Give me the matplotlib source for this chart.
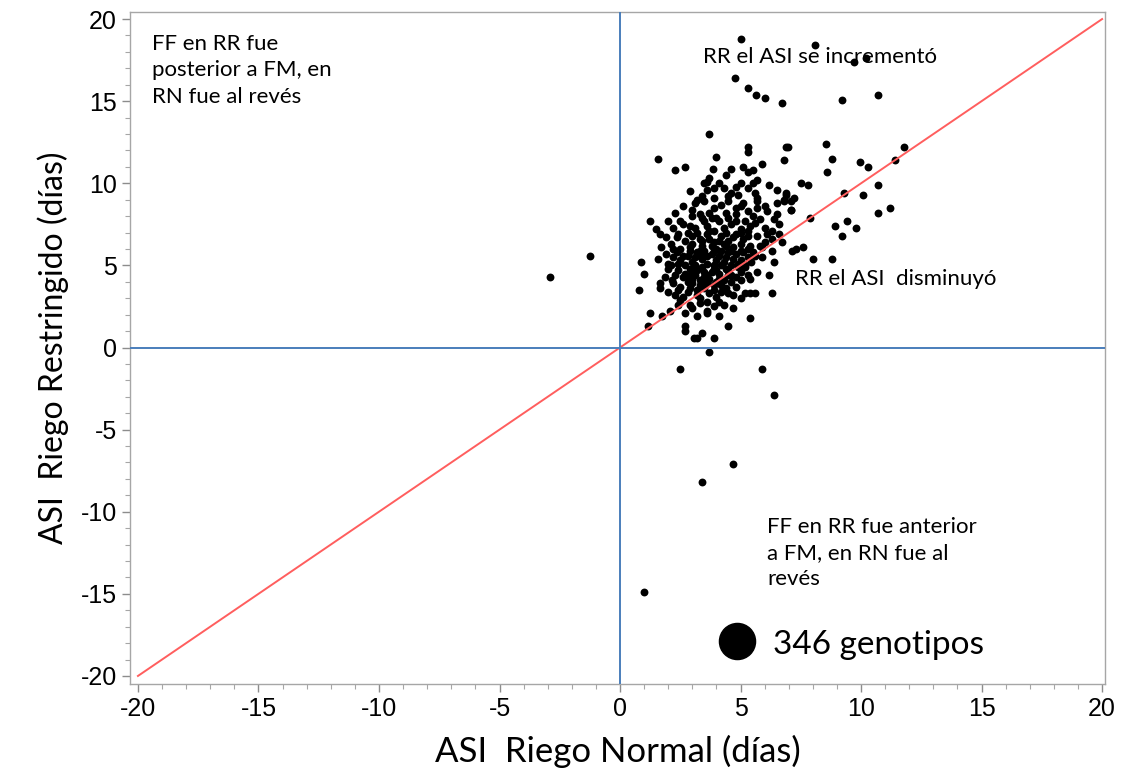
import matplotlib
matplotlib.use("Agg")
import matplotlib.pyplot as plt
from matplotlib.ticker import MultipleLocator

plt.rcParams['axes.unicode_minus'] = False

# ---- data (ASI days): x = Riego Normal, y = Riego Restringido ----
pts_top_x = [5.0, 8.1, 9.7, 10.2, 4.75, 5.3, 5.65, 6.0, 6.7, 9.2, 10.7]
pts_top_y = [18.8, 18.4, 17.4, 17.6, 16.4, 15.8, 15.4, 15.2, 14.9, 15.1, 15.4]

pts_right_x = [6.95, 6.8, 8.55, 8.8, 8.6, 9.96, 10.3, 11.8, 11.4, 7.5, 7.8, 10.7, 9.3, 10.1,
               6.9, 7.1, 7.9, 10.7, 11.2, 8.9, 9.4, 9.8, 9.2, 7.3, 7.6, 8.0, 8.8, 6.6, 7.15, 6.4]
pts_right_y = [12.2, 11.4, 12.4, 11.5, 10.7, 11.3, 11.0, 12.2, 11.4, 10.0, 9.9, 9.9, 9.4, 9.3,
               9.3, 8.4, 7.9, 8.2, 8.5, 7.4, 7.7, 7.3, 6.8, 6.0, 6.1, 5.4, 5.4, 6.9, 5.9, 5.2]

pts_upper_x = [3.7, 5.3, 5.3, 6.9, 1.57, 4.0, 5.9, 2.7, 5.1,
               2.3, 3.85, 4.6, 5.3, 5.5, 4.4, 3.7, 5.7, 3.5, 4.1, 5.0, 5.5, 3.6,
               3.6, 3.9, 5.6, 6.5, 6.9, 7.2, 6.8, 4.6, 4.9, 5.7, 3.4, 4.3, 2.9]
pts_upper_y = [13.0, 12.2, 11.9, 12.2, 11.5, 11.6, 11.2, 11.0, 11.0,
               10.8, 10.9, 10.9, 10.7, 10.8, 10.5, 10.3, 10.2, 10.0, 10.0, 10.0, 10.0, 10.1,
               9.6, 9.7, 9.4, 9.6, 9.4, 9.1, 9.0, 9.4, 9.3, 9.1, 9.2, 9.7, 9.5]

pts_mid_x = [3.5, 3.1, 4.5, 5.7, 6.5, 6.8, 7.1, 3.9, 4.8, 5.3, 5.7, 7.1, 2.27, 3.0, 3.3, 6.5,
             4.2, 5.0, 6.1, 2.6,
             1.24, 2.0, 2.5, 2.9, 3.4, 3.8, 4.1, 4.5, 4.8, 5.2, 5.6, 6.0, 6.3, 1.5, 2.6,
             3.1, 3.6, 4.3, 4.6, 5.0, 5.4, 5.8, 6.6, 2.2, 3.9,
             1.65, 1.9, 2.35, 2.7, 3.0, 3.3, 3.6, 3.9, 4.2, 4.5, 4.8, 5.1, 5.4, 5.7, 6.0, 6.7,
             1.7, 2.1, 2.9, 3.4, 4.0, 4.4, 4.7, 5.0, 5.3, 5.9, 6.3, 2.5, 3.7]
pts_mid_y = [8.9, 8.8, 8.9, 8.9, 8.8, 8.9, 8.9, 8.5, 8.5, 8.3, 8.5, 8.4, 8.2, 8.4, 8.1, 8.1,
             8.7, 8.6, 8.3, 8.6,
             7.7, 7.7, 7.7, 7.4, 7.9, 7.9, 7.7, 7.9, 7.7, 7.7, 7.6, 7.3, 7.1, 7.2, 7.5,
             7.3, 7.4, 7.3, 7.5, 7.2, 7.4, 7.8, 7.5, 7.3, 7.1,
             6.9, 6.7, 6.7, 6.5, 6.8, 6.6, 6.9, 6.4, 6.8, 6.5, 6.9, 6.6, 6.2, 6.8, 6.4, 6.4,
             6.1, 6.3, 6.1, 6.2, 6.0, 6.2, 6.1, 6.3, 6.8, 6.1, 6.6, 6.0, 6.6]

pts_low_x = [1.57, 0.87, 2.0, 2.35, 2.5, 2.8, 3.0, 3.2, 3.4, 3.6, 3.8, 4.0, 4.2, 4.4, 4.6, 4.8,
             5.0, 5.2, 5.45, 5.9, 6.3, 3.1, 3.5, 3.9, 4.3, 4.7, 5.1, 5.6, 2.2, 2.7, 3.3, 4.1,
             1.0, 1.86, 2.15, 2.4, 2.6, 2.9, 3.1, 3.3, 3.5, 3.7, 3.9, 4.1, 4.3, 4.5, 4.8, 5.2,
             6.2, 2.0, 2.8, 3.4, 4.0, 4.6, 5.0, 5.4, 2.3, 3.6, 3.0,
             0.79, 1.65, 1.65, 2.27, 2.5, 2.8, 3.0, 3.2, 3.5, 3.7, 3.9, 4.2, 4.4, 4.5, 5.2, 5.4,
             5.6, 6.3, 2.6, 3.3, 4.0, 4.8, 2.0,
             1.24, 1.74, 2.07, 2.7, 3.0, 3.6, 3.6, 4.7, 2.5, 3.3, 4.1, 2.9, 3.9,
             1.16, 2.7, 3.2, 4.1, 5.4, 4.5,
             2.7, 3.06, 3.2, 3.4, 3.9]
pts_low_y = [5.4, 5.2, 5.1, 5.8, 5.3, 5.6, 5.2, 5.8, 5.4, 5.1, 5.7, 5.3, 5.9, 5.5, 5.0, 5.7,
             5.3, 5.0, 5.2, 5.5, 5.9, 5.0, 5.9, 5.0, 5.2, 5.4, 5.8, 5.6, 5.5, 5.0, 5.6, 5.6,
             4.5, 4.3, 4.1, 4.7, 4.3, 4.8, 4.4, 4.1, 4.6, 4.2, 4.8, 4.5, 4.1, 4.7, 4.3, 4.9,
             4.4, 4.8, 4.0, 4.9, 4.0, 4.4, 4.6, 4.2, 4.4, 4.4, 4.6,
             3.5, 3.9, 3.6, 3.2, 3.7, 3.4, 3.9, 3.2, 3.6, 3.3, 3.8, 3.4, 3.6, 3.3, 3.3, 3.3,
             3.3, 3.3, 3.1, 3.0, 3.1, 3.7, 3.4,
             2.1, 1.9, 2.25, 2.1, 2.4, 2.1, 2.25, 2.4, 2.9, 2.7, 2.8, 2.6, 2.5,
             1.3, 1.3, 1.9, 1.9, 1.8, 1.3,
             1.0, 0.6, 0.55, 0.9, 0.6]

pts_core_x = [3.2, 3.5, 3.8, 4.1, 4.4, 4.7, 5.0, 3.0, 2.8, 3.3, 3.6, 3.9, 4.2, 4.5, 4.9, 5.3,
              2.6, 2.9, 3.2, 3.5, 3.8, 4.1, 4.4, 2.7, 3.0, 3.3, 3.6, 3.9, 4.2, 2.4, 2.9, 3.2,
              4.6, 5.0, 5.3, 5.7, 5.5, 5.8, 6.1, 5.3, 4.0, 4.4, 3.7, 3.0, 4.8, 5.1, 4.5, 3.2,
              3.9, 4.8, 5.3, 6.2, 6.0, 5.5, 6.4, 2.4, 2.2, 1.9, 2.1, 2.4, 3.1, 3.4, 3.7, 4.3,
              4.6, 5.0, 5.3, 4.9, 4.5, 4.0, 3.4, 2.8, 2.2, 2.4, 3.6, 4.3, 5.0, 4.7]
pts_core_y = [7.0, 7.7, 6.2, 6.5, 7.0, 6.7, 7.0, 6.3, 7.0, 5.9, 5.6, 5.9, 5.0, 5.8, 4.9, 5.5,
              5.6, 5.9, 4.7, 4.3, 4.6, 4.2, 4.8, 4.5, 4.2, 3.8, 3.9, 3.5, 3.8, 3.5, 3.6, 3.5,
              4.0, 4.1, 4.4, 4.6, 5.8, 6.2, 6.9, 7.1, 7.9, 8.2, 8.2, 8.0, 8.1, 8.8, 9.2, 9.0,
              9.1, 9.8, 9.7, 9.9, 8.6, 8.0, 7.8, 6.9, 6.0, 5.7, 5.0, 5.1, 5.5, 6.5, 7.1, 6.3,
              5.9, 5.9, 6.0, 5.1, 4.4, 4.7, 4.0, 4.3, 3.9, 2.6, 2.8, 2.6, 3.0, 3.2]

pts_out_x = [3.7, 2.5, 5.9, 6.4, 4.7, 3.4, 1.0, -2.9, -1.24]
pts_out_y = [-0.3, -1.3, -1.3, -2.9, -7.1, -8.2, -14.9, 4.3, 5.6]

xs = pts_top_x + pts_right_x + pts_upper_x + pts_mid_x + pts_low_x + pts_core_x + pts_out_x
ys = pts_top_y + pts_right_y + pts_upper_y + pts_mid_y + pts_low_y + pts_core_y + pts_out_y

axis_min, axis_max = -20, 20
tick_vals = [-20, -15, -10, -5, 0, 5, 10, 15, 20]
n_genotipos = 346

# ---- figure ----
fig = plt.figure(figsize=(11.27, 7.78), dpi=100)
ax = fig.add_axes([130 / 1127, 1 - 684 / 778, (1105 - 130) / 1127, (684 - 12) / 778])

ax.scatter(xs, ys, s=32, color='black', linewidths=0, zorder=2)

ax.plot([axis_min, axis_max], [axis_min, axis_max], color='#ff5e5e', lw=1.4, zorder=3)
ax.axvline(0, color='#4a7ebb', lw=1.4, zorder=3)
ax.axhline(0, color='#4a7ebb', lw=1.4, zorder=3)

ax.set_xlim(-20.33, 20.12)
ax.set_ylim(-20.49, 20.43)
ax.set_xticks(tick_vals)
ax.set_yticks(tick_vals)
ax.xaxis.set_minor_locator(MultipleLocator(1))
ax.yaxis.set_minor_locator(MultipleLocator(1))
ax.tick_params(which='major', length=6, color='#8c8c8c', width=1, direction='out')
ax.tick_params(which='minor', length=3.5, color='#a6a6a6', width=0.8, direction='out')
for lab in ax.get_xticklabels() + ax.get_yticklabels():
    lab.set_fontfamily('Liberation Sans')
    lab.set_fontsize(18)
for sp in ax.spines.values():
    sp.set_color('#a6a6a6')
    sp.set_linewidth(1)

ax.set_xlabel('ASI  Riego Normal (días)', fontsize=25, family='Lato', labelpad=10)
ax.set_ylabel('ASI  Riego Restringido (días)', fontsize=23, family='Lato', labelpad=8)

txt_kw = dict(fontsize=16, family='Lato', color='black', zorder=4)
ax.text(-19.4, 19.1, 'FF en RR fue\nposterior a FM, en\nRN fue al revés', va='top', ha='left',
        linespacing=1.4, **txt_kw)
ax.text(3.45, 17.7, 'RR el ASI se incrementó', va='center', ha='left', **txt_kw)
ax.text(7.26, 4.2, 'RR el ASI  disminuyó', va='center', ha='left', **txt_kw)
ax.text(6.1, -10.3, 'FF en RR fue anterior\na FM, en RN fue al\nrevés', va='top', ha='left',
        linespacing=1.4, **txt_kw)

ax.plot([4.85], [-17.9], marker='o', markersize=26, color='black', zorder=4)
ax.text(6.35, -18.1, f'{n_genotipos} genotipos', va='center', ha='left', fontsize=24,
        family='Lato', zorder=4)

fig.savefig('out.png', dpi=100)
